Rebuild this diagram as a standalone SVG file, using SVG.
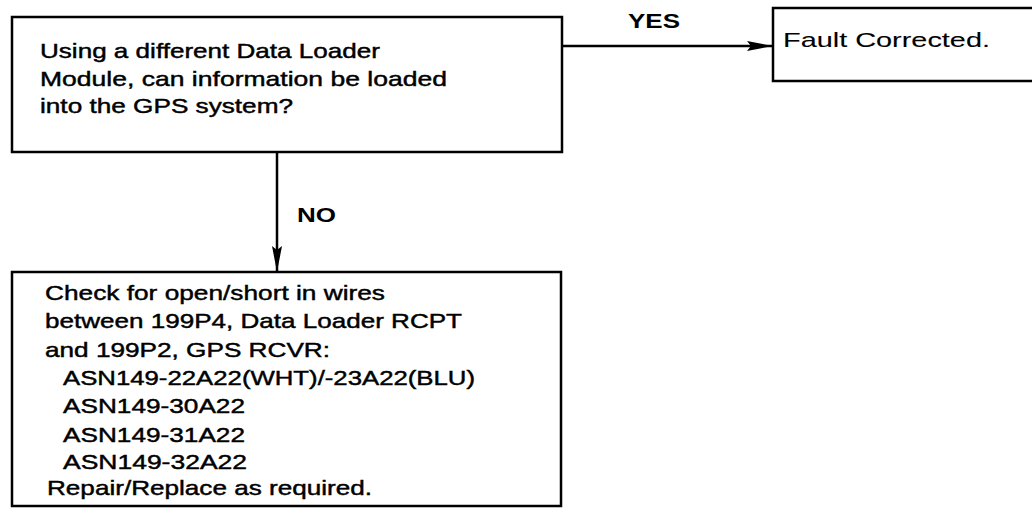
<svg xmlns="http://www.w3.org/2000/svg" width="1032" height="509" viewBox="0 0 1032 509">
<style>
.box{fill:none;stroke:#000;stroke-width:2.5}
.t{font-family:"Liberation Sans",Arial,sans-serif;font-size:21px;fill:#000;stroke:#000;stroke-width:0.45}
.thin{stroke-width:0.1}
.lbl{font-family:"Liberation Sans",Arial,sans-serif;font-size:21px;font-weight:bold;fill:#000}
.conn{fill:none;stroke:#000;stroke-width:2.5}
</style>
<defs>
<marker id="ah" markerWidth="26" markerHeight="12" refX="26" refY="6" orient="auto" markerUnits="userSpaceOnUse">
<path d="M0,1 L26,6 L0,11 L4,6 Z" fill="#000"/>
</marker>
</defs>
<rect width="1032" height="509" fill="#fff"/>
<g id="connectors">
<line class="conn" x1="562" y1="46" x2="773" y2="46" marker-end="url(#ah)"/>
<line class="conn" x1="277" y1="152" x2="277" y2="272" marker-end="url(#ah)"/>
<text class="lbl" x="628" y="28" textLength="52" lengthAdjust="spacingAndGlyphs">YES</text>
<text class="lbl" x="297" y="222" textLength="39" lengthAdjust="spacingAndGlyphs">NO</text>
</g>
<g id="node-question">
<rect class="box" x="12" y="17" width="550" height="135"/>
<text class="t" x="40" y="58" textLength="340" lengthAdjust="spacingAndGlyphs">Using a different Data Loader</text>
<text class="t" x="40" y="86" textLength="407" lengthAdjust="spacingAndGlyphs">Module, can information be loaded</text>
<text class="t" x="40" y="113" textLength="253" lengthAdjust="spacingAndGlyphs">into the GPS system?</text>
</g>
<g id="node-fault">
<rect class="box" x="773" y="8" width="280" height="73"/>
<text class="t thin" x="783" y="47" textLength="207" lengthAdjust="spacingAndGlyphs">Fault Corrected.</text>
</g>
<g id="node-check">
<rect class="box" x="12" y="272" width="549" height="234"/>
<text class="t" x="45" y="300" textLength="340" lengthAdjust="spacingAndGlyphs">Check for open/short in wires</text>
<text class="t" x="45" y="328" textLength="417" lengthAdjust="spacingAndGlyphs">between 199P4, Data Loader RCPT</text>
<text class="t" x="45" y="357" textLength="285" lengthAdjust="spacingAndGlyphs">and 199P2, GPS RCVR:</text>
<text class="t" x="63" y="385" textLength="412" lengthAdjust="spacingAndGlyphs">ASN149-22A22(WHT)/-23A22(BLU)</text>
<text class="t" x="63" y="413" textLength="182" lengthAdjust="spacingAndGlyphs">ASN149-30A22</text>
<text class="t" x="63" y="442" textLength="182" lengthAdjust="spacingAndGlyphs">ASN149-31A22</text>
<text class="t" x="63" y="469" textLength="184" lengthAdjust="spacingAndGlyphs">ASN149-32A22</text>
<text class="t" x="47" y="495" textLength="325" lengthAdjust="spacingAndGlyphs">Repair/Replace as required.</text>
</g>
</svg>
